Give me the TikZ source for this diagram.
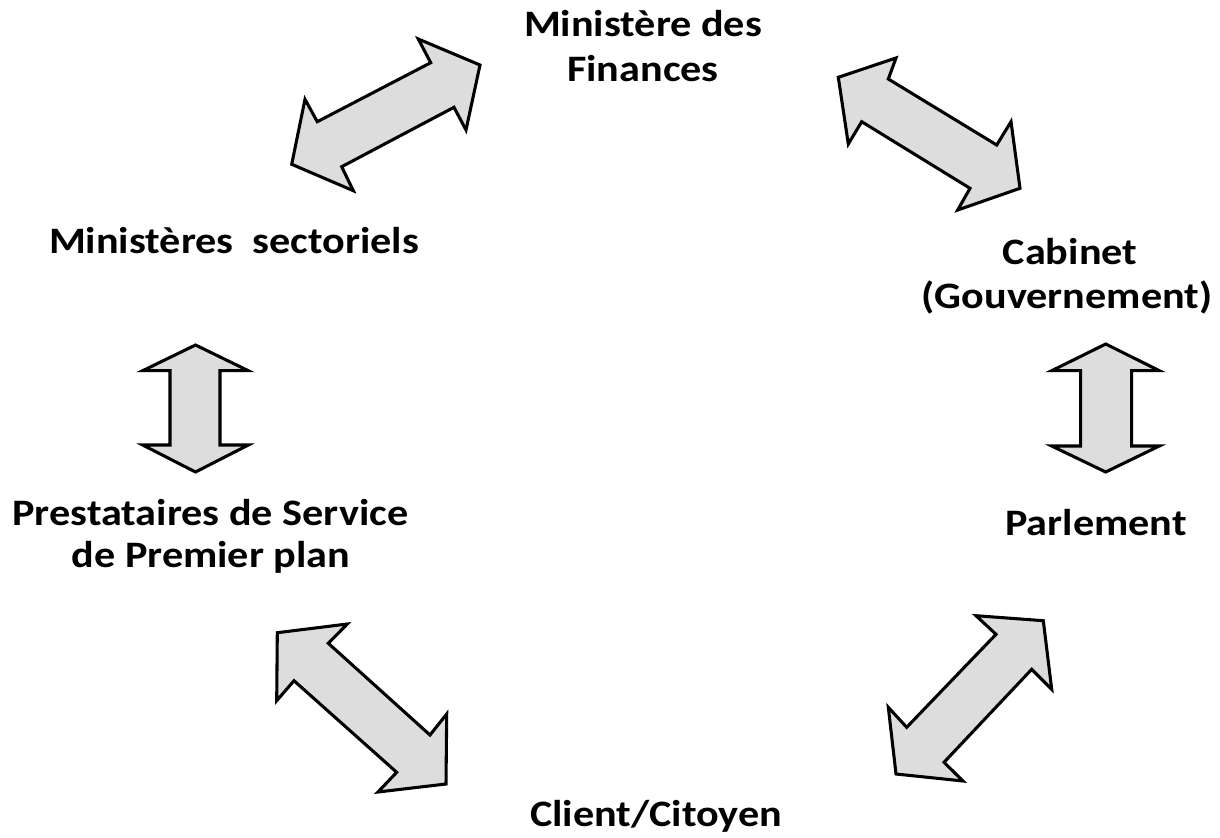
\documentclass[tikz,border=0pt]{standalone}
\usepackage{graphicx}
\usepackage{fontspec}
\setmainfont{Carlito}
\definecolor{arrowgray}{HTML}{DDDDDD}
\newcommand{\widetext}[1]{\scalebox{1.13}[1]{#1}}
\tikzset{
  lbl/.style={font=\fontsize{28}{34}\selectfont\bfseries, inner sep=0pt, anchor=base},
  blockarrow/.style={draw=black, fill=arrowgray, line width=2.3pt, line join=miter}
}
\begin{document}
\begin{tikzpicture}[x=0.75pt,y=-0.75pt]
\useasboundingbox (0,0) rectangle (1220,838);
% labels
\node[lbl] (mf1) at (643,37) {\widetext{Ministère des}};
\node[lbl] (mf2) at (643,82) {\widetext{Finances}};
\node[lbl] (ms) at (234,253) {\widetext{Ministères\ \ sectoriels}};
\node[lbl] (cab1) at (1070,264) {\widetext{Cabinet}};
\node[lbl] (cab2) at (1067,308) {\widetext{(Gouvernement)}};
\node[lbl] (ps1) at (210.5,525) {\widetext{Prestataires de Service}};
\node[lbl] (ps2) at (211,567) {\widetext{de Premier plan}};
\node[lbl] (par) at (1096,535) {\widetext{Parlement}};
\node[lbl] (cc) at (656,826) {\widetext{Client/Citoyen}};
% block arrows
\draw[blockarrow] (480,65) -- (418.3,39) -- (430.7,62.7) -- (317.3,121.7) -- (305,99.3) -- (291.7,164.3) -- (353.3,190.7) -- (341.7,166.7) -- (454,107.3) -- (466,130) -- cycle;
\draw[blockarrow] (838.3,77.3) -- (896,58) -- (888.3,79) -- (996.7,145) -- (1011,121.7) -- (1020,188.3) -- (957.7,210) -- (970,188.3) -- (861.7,121.7) -- (848.3,144) -- cycle;
\draw[blockarrow] (195.5,345) -- (142.7,370.7) -- (170,370.7) -- (170,445) -- (142.7,445) -- (195.5,472) -- (248.3,445) -- (220,445) -- (220,370.7) -- (248.3,370.7) -- cycle;
\draw[blockarrow] (1105.7,344) -- (1051.7,370.7) -- (1080.7,370.7) -- (1080.7,446) -- (1051.7,446) -- (1105.7,472) -- (1159.3,446) -- (1131.7,446) -- (1131.7,370.7) -- (1159.3,370.7) -- cycle;
\draw[blockarrow] (277.3,632.7) -- (347.3,624) -- (328.3,643.3) -- (430,735) -- (446.7,714) -- (446,784) -- (378,792) -- (396.7,772.3) -- (294,680.7) -- (276.7,700.7) -- cycle;
\draw[blockarrow] (1043.3,620.7) -- (976,615.7) -- (996,634.3) -- (906.7,727.3) -- (888.3,707.3) -- (896,774) -- (963,781) -- (944,762.3) -- (1031.7,669.3) -- (1051.7,689.3) -- cycle;
\end{tikzpicture}
\end{document}
